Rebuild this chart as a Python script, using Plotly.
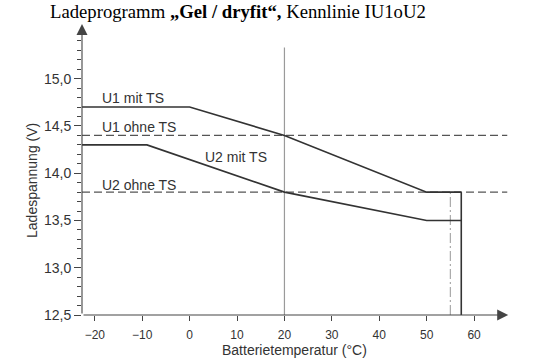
import plotly.graph_objects as go

# ---- data ----
temp_u1 = [-22.7, 0, 20, 50, 57.3]
u1_mit_ts = [14.7, 14.7, 14.4, 13.8, 13.8]
temp_u2 = [-22.7, -9, 20, 50, 57.3]
u2_mit_ts = [14.3, 14.3, 13.8, 13.5, 13.5]
u1_ohne_ts = 14.4
u2_ohne_ts = 13.8
x_min, x_max = -22.7, 67.0
y_min = 12.5
ref_temp = 20
ref_top = 15.33
cutoff_temp = 57.3
dashdot_temp = 55.0
x_ticks = [-20, -10, 0, 10, 20, 30, 40, 50, 60]
y_ticks = [12.5, 13.0, 13.5, 14.0, 14.5, 15.0]
y_ticktext = ["12,5", "13,0", "13,5", "14,0", "14,5", "15,0"]
y_minor = [round(12.5 + 0.1 * i, 1) for i in range(30)]
y_minor = [v for v in y_minor if v not in y_ticks]

LINE = "#333333"
AX = "#444444"
fig = go.Figure()

# reference vertical line at 20 °C
fig.add_trace(go.Scatter(x=[ref_temp, ref_temp], y=[y_min, ref_top], mode="lines",
                         line=dict(color="#9a9a9a", width=1.2), hoverinfo="skip"))
# dashed "ohne TS" lines
for v in (u1_ohne_ts, u2_ohne_ts):
    fig.add_trace(go.Scatter(x=[x_min, x_max], y=[v, v], mode="lines",
                             line=dict(color="#555555", width=1.2, dash="8px,4px"),
                             hoverinfo="skip"))
# dash-dot vertical
fig.add_trace(go.Scatter(x=[dashdot_temp, dashdot_temp], y=[y_min, u2_ohne_ts], mode="lines",
                         line=dict(color="#aaaaaa", width=1.2, dash="10px,3px,2px,3px"),
                         hoverinfo="skip"))
# cutoff vertical
fig.add_trace(go.Scatter(x=[cutoff_temp, cutoff_temp], y=[y_min, u1_mit_ts[-1]], mode="lines",
                         line=dict(color=LINE, width=1.6), hoverinfo="skip"))
# mit TS curves
fig.add_trace(go.Scatter(x=temp_u1, y=u1_mit_ts, mode="lines",
                         line=dict(color=LINE, width=1.6)))
fig.add_trace(go.Scatter(x=temp_u2, y=u2_mit_ts, mode="lines",
                         line=dict(color=LINE, width=1.6)))

lab_font = dict(family="Liberation Sans, Arial", size=14, color="#333333")
labels = [("U1 mit TS", -18.9, 14.80), ("U1 ohne TS", -18.9, 14.49),
          ("U2 mit TS", 2.8, 14.17), ("U2 ohne TS", -18.9, 13.88)]
annotations = []
for t, x, y in labels:
    annotations.append(dict(text=t, x=x, y=y, xref="x", yref="y", showarrow=False,
                            xanchor="left", yanchor="middle", font=lab_font))

# axis arrows
annotations.append(dict(x=67.2, y=y_min, ax=x_min, ay=y_min, xref="x", yref="y",
                        axref="x", ayref="y", text="", showarrow=True, arrowhead=2,
                        arrowsize=2.0, arrowwidth=1.1, arrowcolor=AX))
annotations.append(dict(x=x_min, y=15.58, ax=x_min, ay=y_min, xref="x", yref="y",
                        axref="x", ayref="y", text="", showarrow=True, arrowhead=2,
                        arrowsize=2.0, arrowwidth=1.1, arrowcolor=AX))

# axis titles
annotations.append(dict(text="Batterietemperatur (°C)", x=0.4953, y=-0.1195, xref="paper",
                        yref="paper", showarrow=False, xanchor="center", yanchor="middle",
                        font=lab_font))
annotations.append(dict(text="Ladespannung (V)", x=-0.1163, y=0.4608, xref="paper",
                        yref="paper", showarrow=False, textangle=-90, xanchor="center",
                        yanchor="middle", font=lab_font))
# title
annotations.append(dict(text="Ladeprogramm <b>„Gel / dryfit“,</b> Kennlinie IU1oU2",
                        x=-0.079, y=1.0375, xref="paper", yref="paper", showarrow=False,
                        xanchor="left", yanchor="middle",
                        font=dict(family="Liberation Serif, Times New Roman", size=18.7,
                                  color="#000000")))

fig.update_layout(
    width=551, height=363,
    margin=dict(l=82, r=39, t=22, b=48),
    paper_bgcolor="white", plot_bgcolor="white",
    showlegend=False,
    annotations=annotations,
    xaxis=dict(range=[x_min, 68.0], showgrid=False, zeroline=False, showline=False,
               tickmode="array", tickvals=x_ticks, ticks="outside", ticklen=5,
               tickcolor=AX, tickwidth=1, ticklabelstandoff=4,
               tickfont=dict(family="Liberation Sans, Arial", size=12, color="#333333")),
    yaxis=dict(range=[y_min, 15.6], showgrid=False, zeroline=False, showline=False,
               tickmode="array", tickvals=y_ticks, ticktext=y_ticktext, ticks="outside",
               ticklen=7, tickcolor=AX, tickwidth=1,
               tickfont=dict(family="Liberation Sans, Arial", size=14, color="#333333"),
               minor=dict(tickmode="array", tickvals=y_minor, ticks="outside", ticklen=4,
                          tickcolor=AX, tickwidth=1, showgrid=False)),
)

fig.write_html("out.html", post_script="document.body.style.margin='0';",
               config={"displayModeBar": False})
